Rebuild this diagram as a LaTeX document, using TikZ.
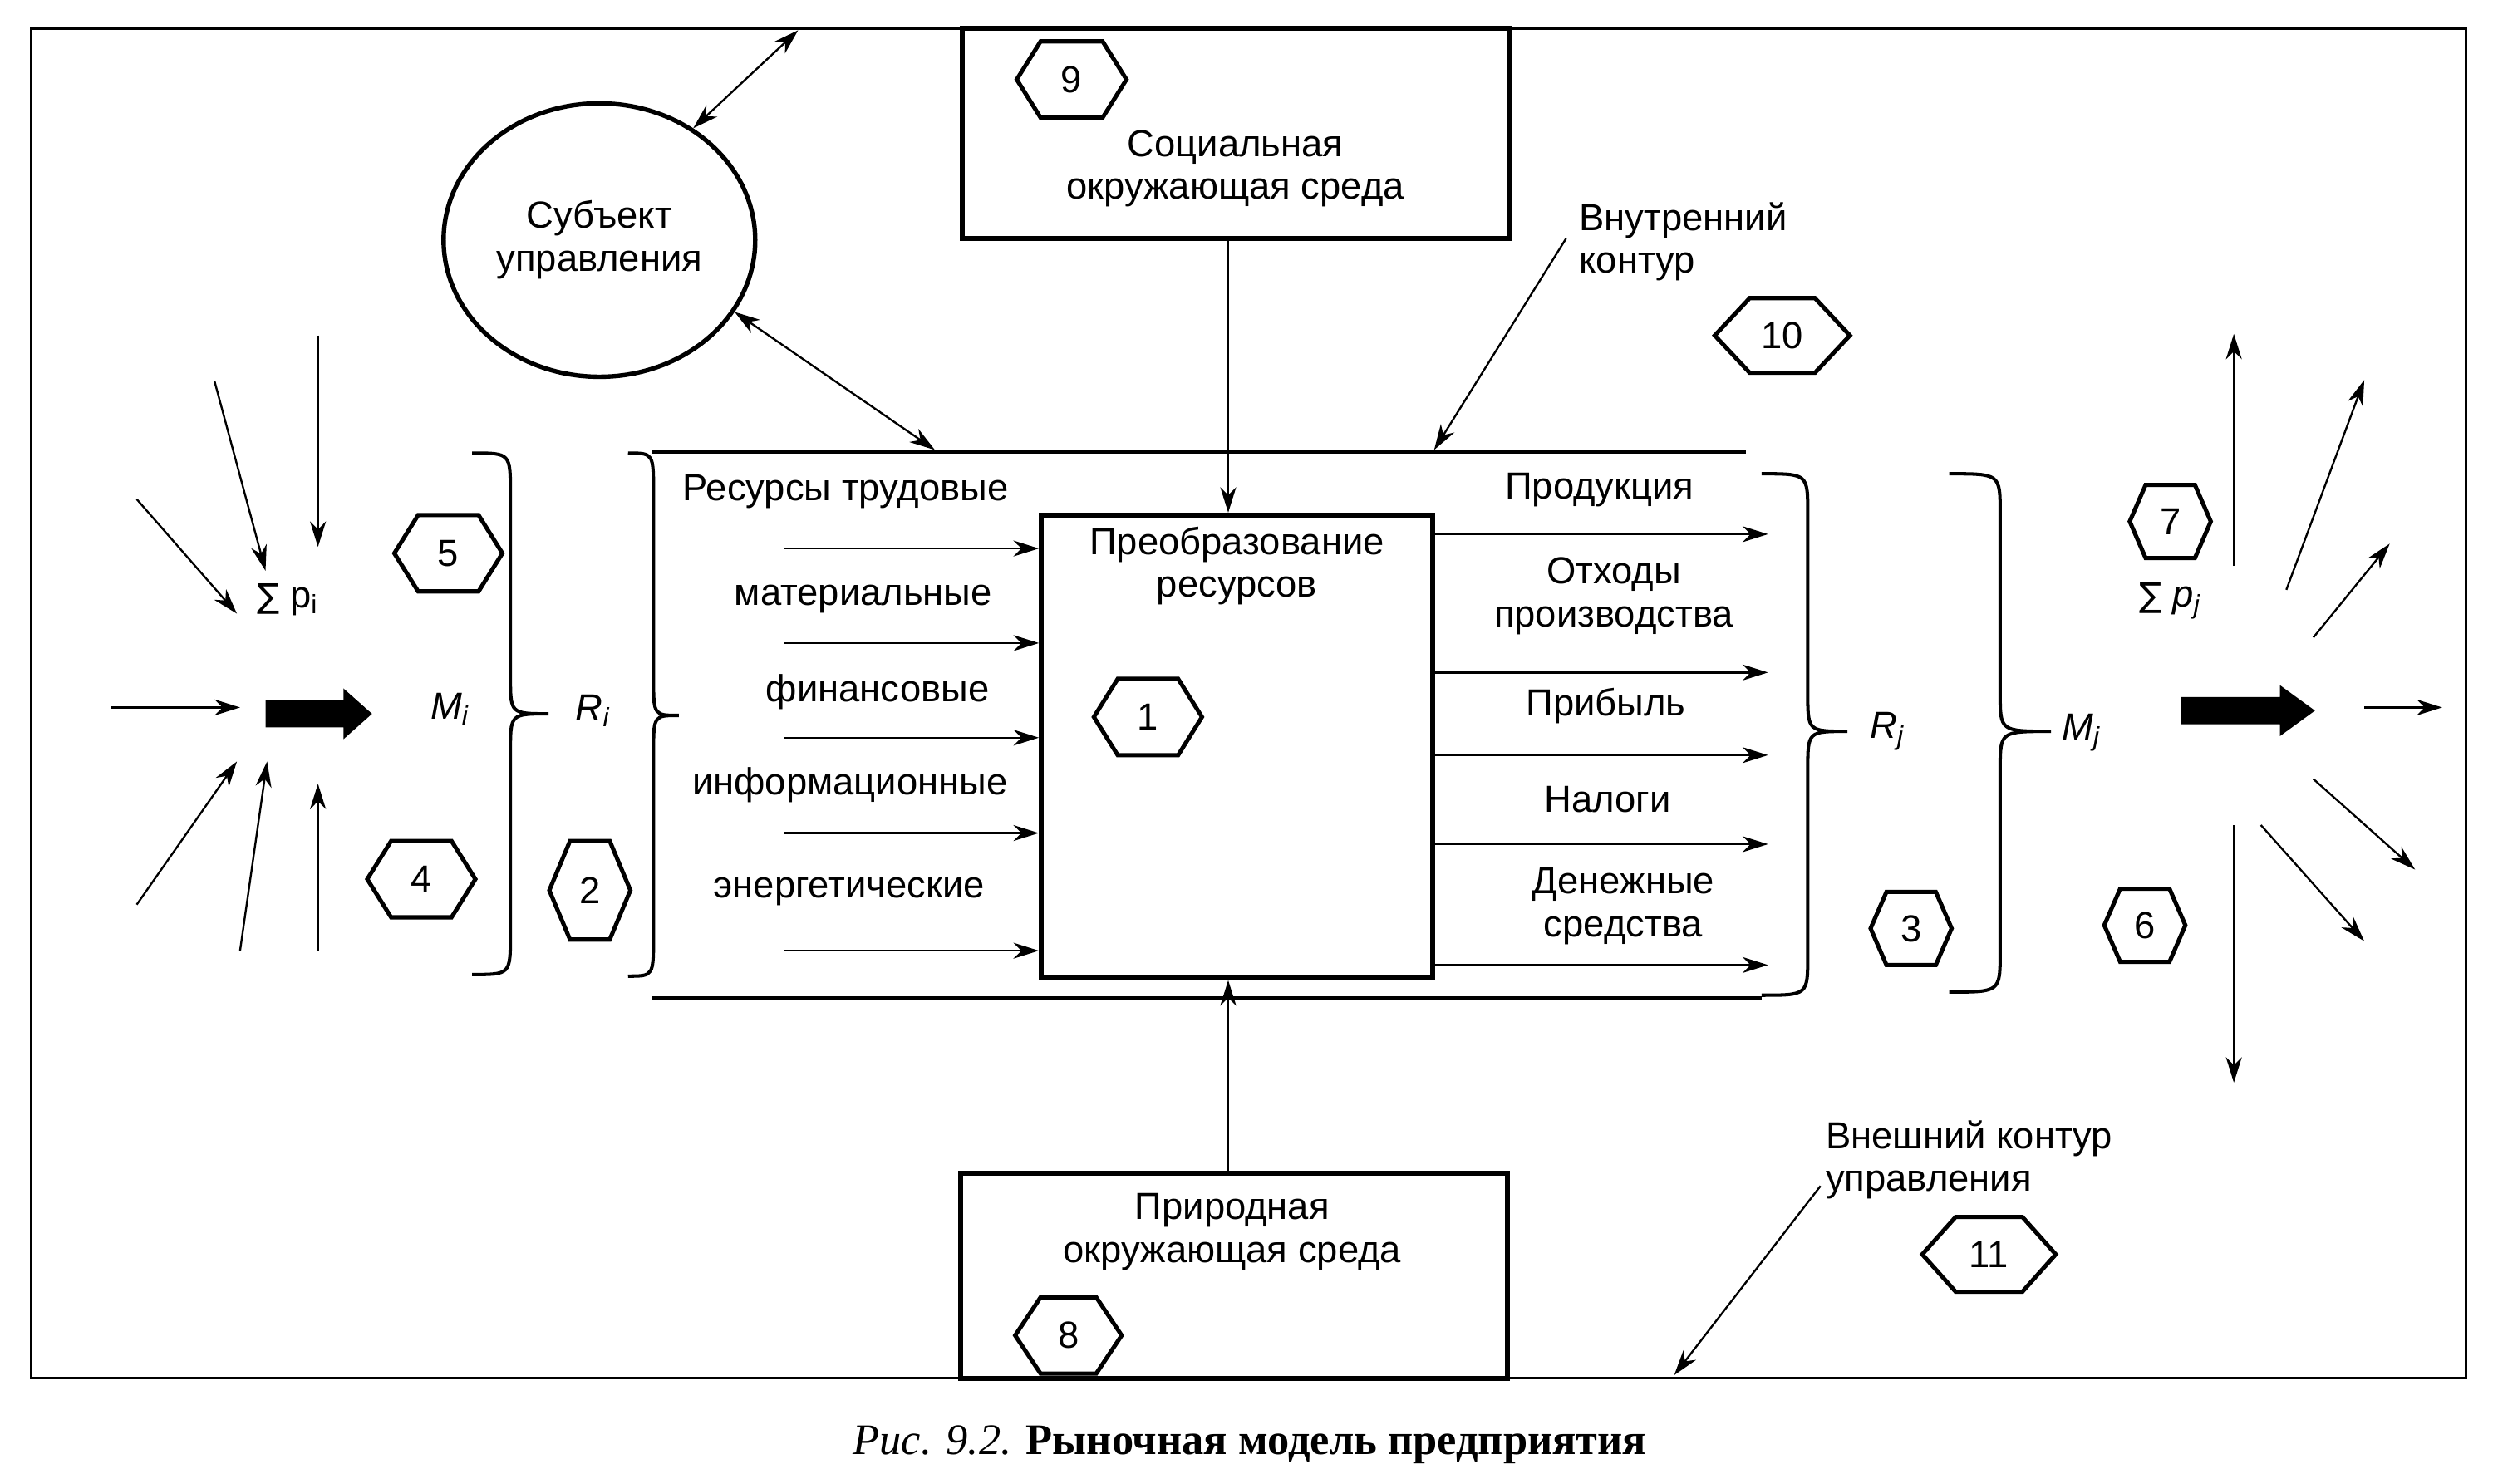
\documentclass[tikz,border=0pt]{standalone}
\usepackage{fontspec}
\setmainfont{Liberation Sans}
\newfontfamily\capfont{Liberation Serif}
\newfontfamily\symfont{DejaVu Sans}
\usetikzlibrary{arrows.meta,shapes.geometric,fit}

\tikzset{
  lbl/.style={font=\fontsize{13.5}{15.4}\selectfont, inner sep=0pt, align=center},
  conn/.style={line width=0.7pt},
  arr/.style={-{Stealth[length=3.2mm,width=2mm,inset=1mm]}},
  darr/.style={{Stealth[length=3.2mm,width=2mm,inset=1mm]}-{Stealth[length=3.2mm,width=2mm,inset=1mm]}},
  boxln/.style={draw, line width=1.8pt, inner sep=0pt},
  frameln/.style={draw, line width=0.9pt, inner sep=0pt},
  contln/.style={line width=1.7pt},
  braceln/.style={line width=1.2pt},
  hexline/.style={line width=1.5pt, line join=miter},
  blockarr/.style={fill=black},
}

% hexagon: name, cx, cy, half width, half height, point offset, label
\newcommand\hexa[7]{%
  \draw[hexline, shift={(#2,#3)}] (-#4,0) -- (-#4+#6,-#5) -- (#4-#6,-#5) -- (#4,0) -- (#4-#6,#5) -- (-#4+#6,#5) -- cycle;
  \node[lbl] (#1) at (#2,#3) {#7};}
% brace "}": end x, vertical x, tip x, top y, tip y, bottom y
\newcommand\mybrace[6]{%
  \draw[braceln] (#1,#4) .. controls (#2,#4) .. (#2,#4+25) -- (#2,#5-24)
     .. controls (#2,#5) .. (#3,#5) .. controls (#2,#5) .. (#2,#5+24) -- (#2,#6-25)
     .. controls (#2,#6) .. (#1,#6);}

\begin{document}
\begin{tikzpicture}[x=0.2mm, y=-0.2mm]
\useasboundingbox (0,0) rectangle (1568,933);

% outer frame (outer control contour)
\node[frameln, fit={(19.7,18) (1551,866.7)}] (frame) {};

% boxes
\node[boxln, fit={(605,18) (949,150)}] (soc) {};
\node[boxln, fit={(604,738) (948,867)}] (nat) {};
\node[boxln, fit={(655,324) (901,615)}] (conv) {};

\node[lbl] (soct) at (777,106) {Социальная\\окружающая среда};
\node[lbl] (natt) at (775,775) {Природная\\окружающая среда};
\node[lbl] (convt) at (778,356) {Преобразование\\ресурсов};

% subject of management
\node[ellipse, draw, line width=1.6pt, minimum width=39.2mm, minimum height=34.4mm, lbl] (subj) at (377,151) {Субъект\\управления};

% inner contour lines
\coordinate (itl) at (410,284);
\coordinate (itr) at (1098,284);
\coordinate (ibl) at (410,628);
\coordinate (ibr) at (1108,628);
\draw[contln] (itl) -- (itr);
\draw[contln] (ibl) -- (ibr);

% subject arrows
\coordinate (ftop) at (502,19);
\coordinate (itop) at (588,283);
\draw[conn, darr] (subj.50) -- (ftop);
\draw[conn, darr] (subj.-28) -- (itop);

% environment arrows
\coordinate (vx) at (772.5,0);
\draw[conn, arr] (soc.south -| vx) -- (conv.north -| vx);
\draw[conn, arr] (nat.north -| vx) -- (conv.south -| vx);

% contour labels
\node[lbl, align=left, anchor=west] (vnut) at (993,152) {Внутренний\\контур};
\coordinate (vnA) at (985,150);
\coordinate (vnB) at (902,283);
\draw[conn, arr] (vnA) -- (vnB);
\node[lbl, align=left, anchor=west] (vnesh) at (1148,729.5) {Внешний контур\\управления};
\coordinate (veA) at (1145,746);
\coordinate (veB) at (1053,865);
\draw[conn, arr] (veA) -- (veB);

% input resources
\node[lbl, anchor=west] (r0) at (429,309) {Ресурсы трудовые};
\node[lbl] (r1) at (543,377) {материальные};
\node[lbl] (r2) at (552,435.5) {финансовые};
\node[lbl] (r3) at (534.5,494) {информационные};
\node[lbl] (r4) at (534,561) {энергетические};
\foreach \n/\yy in {1/345,2/404.5,3/464,4/524,5/598}{
  \coordinate (in\n) at (493,\yy);
  \draw[conn, arr] (in\n) -- (in\n -| conv.west);
}

% outputs
\node[lbl] (o1) at (1006,308) {Продукция};
\node[lbl] (o2) at (1015,375) {Отходы\\производства};
\node[lbl] (o3) at (1010,444) {Прибыль};
\node[lbl] (o4) at (1011,503) {Налоги};
\node[lbl] (o5) at (1021,570) {Денежные\\средства};
\foreach \n/\yy in {1/336,2/423,3/475,4/531,5/607}{
  \coordinate (out\n) at (1112,\yy);
  \draw[conn, arr] (out\n -| conv.east) -- (out\n);
}

% braces
\mybrace{297}{321}{345}{285}{449}{613}
\mybrace{395}{411}{427}{285}{450}{614}
\mybrace{1108}{1137}{1162}{298}{460}{626}
\mybrace{1226}{1258}{1290}{298}{460}{624}
\node[lbl] (Mi) at (283,446) {\itshape M\textsubscript{i}};
\node[lbl] (Ri) at (373,447) {\itshape R\textsubscript{i}};
\node[lbl] (Rj) at (1187,460) {\itshape R\textsubscript{j}};
\node[lbl] (Mj) at (1309,461) {\itshape M\textsubscript{j}};

% hexagons
\hexa{h1}{722}{451}{34}{24}{15}{1}
\hexa{h2}{371}{560}{25.5}{31}{13}{2}
\hexa{h3}{1202}{584}{25.5}{23}{10}{3}
\hexa{h4}{265}{553}{34}{24}{15}{4}
\hexa{h5}{282}{348}{34}{24}{15}{5}
\hexa{h6}{1349}{582}{25.5}{23}{10}{6}
\hexa{h7}{1365}{328}{25.5}{23}{10}{7}
\hexa{h8}{672}{840}{33.5}{24}{16}{8}
\hexa{h9}{674}{50}{34.5}{24}{15}{9}
\hexa{h10}{1121}{211}{42.5}{23.5}{22}{10}
\hexa{h11}{1251}{789}{42}{23.5}{21}{11}

% left market: incoming flows
\node[lbl] (sumi) at (181,377) {{\symfont\fontsize{12}{14}\selectfont ∑} p\textsubscript{i}};
\foreach \n/\xa/\ya/\xb/\yb in {1/86/314/149/386, 2/135/240/167/359, 3/200/211/200/344, 4/70/445/151/445, 5/86/569/149/479, 6/151/598/168/479, 7/200/598/200/493}{
  \coordinate (la\n) at (\xa,\ya);
  \coordinate (lb\n) at (\xb,\yb);
  \draw[conn, arr] (la\n) -- (lb\n);
}
\fill[blockarr] (167,440.5) -- (216,440.5) -- (216,433) -- (234,449) -- (216,465) -- (216,457.5) -- (167,457.5) -- cycle;

% right market: outgoing flows
\node[lbl] (sumj) at (1365,378) {{\symfont\fontsize{12}{14}\selectfont ∑} \itshape p\textsubscript{j}};
\foreach \n/\xa/\ya/\xb/\yb in {1/1405/356/1405/210, 2/1438/371/1487/239, 3/1455/401/1503/342, 4/1487/445/1536/445, 5/1455/490/1519/547, 6/1422/519/1487/592, 7/1405/519/1405/681}{
  \coordinate (ra\n) at (\xa,\ya);
  \coordinate (rb\n) at (\xb,\yb);
  \draw[conn, arr] (ra\n) -- (rb\n);
}
\fill[blockarr] (1372,438.5) -- (1434,438.5) -- (1434,431) -- (1456,447) -- (1434,463) -- (1434,455.5) -- (1372,455.5) -- cycle;

% caption
\node[inner sep=0pt, font=\capfont\fontsize{15.6}{18}\selectfont] (cap) at (786,909) {{\itshape Рис. 9.2.} {\bfseries Рыночная модель предприятия}};
\end{tikzpicture}
\end{document}
